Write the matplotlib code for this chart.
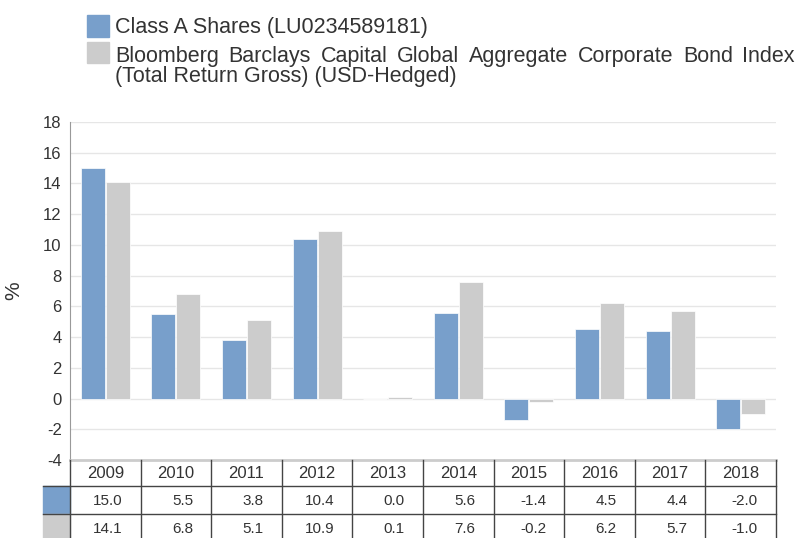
import matplotlib
matplotlib.use("Agg")
import matplotlib.pyplot as plt
from matplotlib.patches import Rectangle
import numpy as np

plt.rcParams['font.family'] = ['Liberation Sans', 'DejaVu Sans']
plt.rcParams['axes.unicode_minus'] = False

years = ['2009', '2010', '2011', '2012', '2013', '2014', '2015', '2016', '2017', '2018']
class_a = [15.0, 5.5, 3.8, 10.4, 0.0, 5.6, -1.4, 4.5, 4.4, -2.0]
index_ret = [14.1, 6.8, 5.1, 10.9, 0.1, 7.6, -0.2, 6.2, 5.7, -1.0]
series_names = ['Class A Shares (LU0234589181)',
                'Bloomberg Barclays Capital Global Aggregate Corporate Bond Index',
                '(Total Return Gross) (USD-Hedged)']

BLUE = '#789fcb'
GREY = '#cccccc'
TXT = '#333333'
W, H = 797, 538

fig = plt.figure(figsize=(W / 100, H / 100), dpi=100)

def fx(px):
    return px / W

def fy(py):
    return 1 - py / H

# main bar axes
ax = fig.add_axes([fx(70), fy(460), fx(776 - 70), (460 - 122) / H])
x = np.arange(len(years))
bw = 0.34
ax.bar(x - 0.177, class_a, bw, color=BLUE, edgecolor='white', linewidth=0.5, zorder=3)
ax.bar(x + 0.177, index_ret, bw, color=GREY, edgecolor='white', linewidth=0.5, zorder=3)
ax.set_xlim(-0.5, 9.5)
ax.set_ylim(-4, 18)
ax.set_yticks(np.arange(-4, 19, 2))
ax.set_xticks([])
ax.grid(axis='y', color='#e6e6e6', linewidth=1, zorder=0)
for s in ['top', 'right']:
    ax.spines[s].set_visible(False)
ax.spines['left'].set_color('#999999')
ax.spines['bottom'].set_color('#cccccc')
ax.spines['bottom'].set_linewidth(2)
ax.tick_params(axis='y', length=0, pad=6, labelsize=12, labelcolor=TXT)
ax.set_ylabel('%', fontsize=15, color=TXT, labelpad=14)

# data table under the bars
tax = fig.add_axes([fx(43), 0, fx(776 - 43), (538 - 460) / H])
left_edge = -0.5 - 27 / 70.6
tax.set_xlim(left_edge, 9.5)
tax.set_ylim(78, 0)
tax.axis('off')
rows = [0, 26, 54, 82]
line_c = '#444444'
for i in range(len(years) + 1):
    tax.plot([i - 0.5, i - 0.5], [rows[0], rows[3]], color=line_c, lw=1, clip_on=False)
for r in rows[1:3]:
    tax.plot([left_edge, 9.5], [r, r], color=line_c, lw=1, clip_on=False)
tax.add_patch(Rectangle((left_edge, rows[1]), -0.5 - left_edge, rows[2] - rows[1],
                        color=BLUE, clip_on=False, zorder=0))
tax.add_patch(Rectangle((left_edge, rows[2]), -0.5 - left_edge, rows[3] - rows[2],
                        color=GREY, clip_on=False, zorder=0))
for i, yr in enumerate(years):
    tax.text(i, (rows[0] + rows[1]) / 2 + 1, yr, ha='center', va='center', fontsize=12, color=TXT)
    tax.text(i + 0.245, (rows[1] + rows[2]) / 2 + 1, f'{class_a[i]:.1f}', ha='right', va='center',
             fontsize=11, color=TXT)
    tax.text(i + 0.245, (rows[2] + rows[3]) / 2 + 1, f'{index_ret[i]:.1f}', ha='right', va='center',
             fontsize=11, color=TXT)

# legend
fig.patches.append(Rectangle((fx(87), fy(37)), fx(22), 22 / H, color=BLUE, transform=fig.transFigure))
fig.patches.append(Rectangle((fx(87), fy(63)), fx(22), 21 / H, color=GREY, transform=fig.transFigure))
fs = 15.5
fig.text(fx(115), fy(33), series_names[0], fontsize=fs, color=TXT, va='baseline')
fig.text(fx(115), fy(82), series_names[2], fontsize=fs, color=TXT, va='baseline')

# justified second line
renderer = fig.canvas.get_renderer()
words = series_names[1].split()
tmp = [fig.text(0, 0, w, fontsize=fs) for w in words]
widths = [t.get_window_extent(renderer).width for t in tmp]
for t in tmp:
    t.remove()
gap = (795 - 115 - sum(widths)) / (len(words) - 1)
pos = 115
for w, wd in zip(words, widths):
    fig.text(fx(pos), fy(62), w, fontsize=fs, color=TXT, va='baseline')
    pos += wd + gap

fig.savefig('out.png', dpi=100)
